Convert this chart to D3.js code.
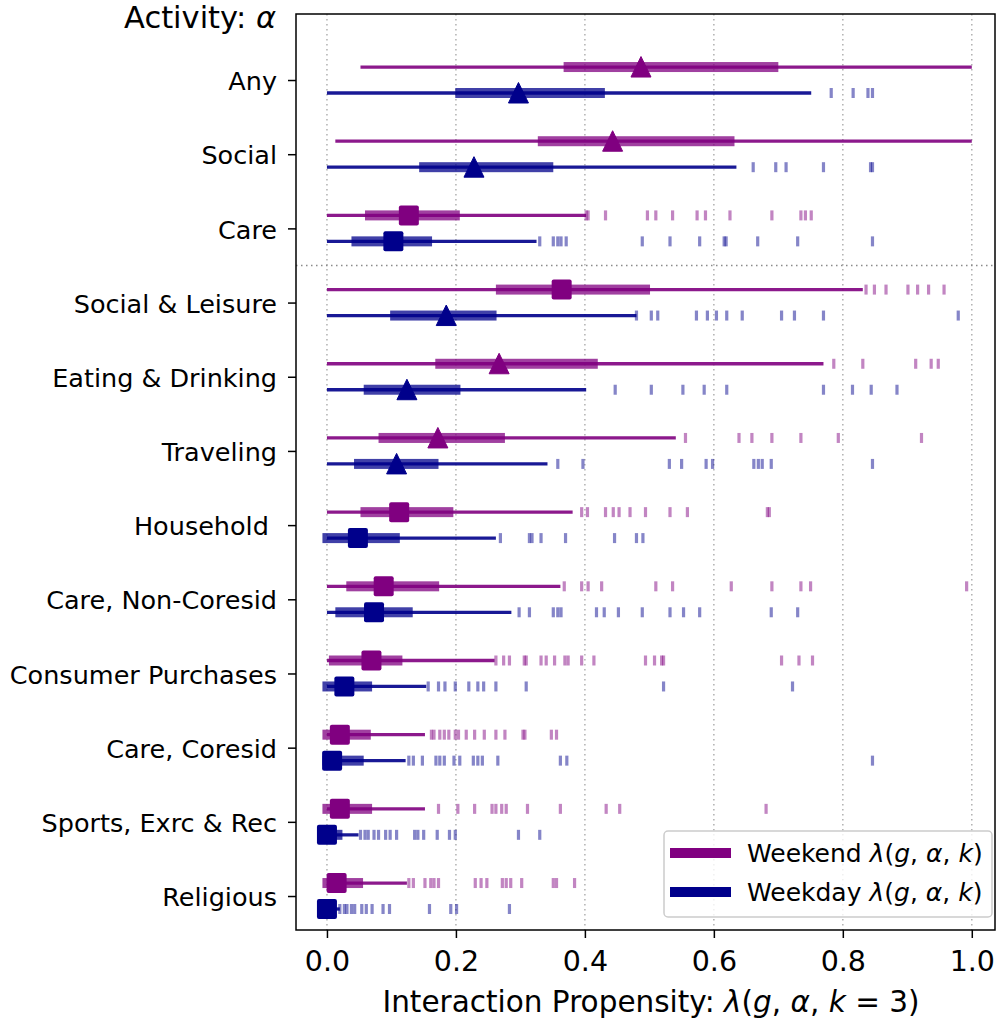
<!DOCTYPE html>
<html><head><meta charset="utf-8">
<script src="https://cdn.jsdelivr.net/npm/d3@7"></script>
<style>
body{margin:0;background:#fff}
svg{display:block}
text{font-family:"DejaVu Sans",sans-serif;white-space:pre;fill:#000}
</style>
</head><body>
<svg id="c" width="997" height="1024"></svg>
<script>
// ---------------- data ----------------
const categories = ["Any","Social","Care","Social & Leisure","Eating & Drinking","Traveling","Household ","Care, Non-Coresid","Consumer Purchases","Care, Coresid","Sports, Exrc & Rec","Religious"];

const weekendMin = [0.052,0.013,0,0,0,0,0,0,0,0,0,0];
const weekendQ1  = [0.367,0.327,0.059,0.262,0.168,0.080,0.052,0.030,0.003,-0.007,-0.007,-0.007];
const weekendMed = [0.487,0.443,0.127,0.364,0.267,0.172,0.112,0.088,0.069,0.020,0.020,0.015];
const weekendQ3  = [0.700,0.632,0.206,0.501,0.420,0.276,0.196,0.174,0.117,0.068,0.070,0.056];
const weekendMax = [1.0,1.0,0.402,0.831,0.770,0.541,0.381,0.362,0.260,0.152,0.152,0.124];
const weekendMarker = ["tri","tri","sq","sq","tri","tri","sq","sq","sq","sq","sq","sq"];
const weekendOutliers = [
  [],
  [],
  [0.402,0.405,0.432,0.497,0.510,0.536,0.574,0.587,0.625,0.690,0.735,0.742,0.751],
  [0.836,0.849,0.867,0.901,0.916,0.933,0.957],
  [0.786,0.831,0.913,0.937,0.948],
  [0.556,0.639,0.659,0.690,0.735,0.793,0.922],
  [0.395,0.404,0.432,0.444,0.453,0.470,0.494,0.532,0.559,0.683,0.686],
  [0.368,0.395,0.405,0.426,0.510,0.536,0.627,0.690,0.735,0.750,0.992],
  [0.262,0.274,0.283,0.306,0.309,0.332,0.340,0.353,0.369,0.374,0.395,0.414,0.494,0.508,0.519,0.522,0.705,0.732,0.753],
  [0.162,0.166,0.175,0.182,0.189,0.199,0.204,0.216,0.229,0.244,0.262,0.276,0.304,0.307,0.348,0.356],
  [0.173,0.203,0.229,0.256,0.262,0.271,0.278,0.311,0.362,0.433,0.454,0.681],
  [0.127,0.134,0.152,0.161,0.166,0.173,0.230,0.239,0.248,0.272,0.278,0.285,0.302,0.351,0.356,0.384]
];

const weekdayMin = [0,0,0,0,0,0,0,0,0,0,0,0];
const weekdayQ1  = [0.199,0.143,0.038,0.098,0.057,0.042,-0.007,0.013,-0.007,-0.007,-0.014,-0.014];
const weekdayMed = [0.297,0.228,0.103,0.185,0.124,0.108,0.048,0.073,0.027,0.008,0.000,0.000];
const weekdayQ3  = [0.431,0.351,0.163,0.263,0.207,0.173,0.113,0.133,0.070,0.057,0.024,0.014];
const weekdayMax = [0.751,0.635,0.325,0.480,0.402,0.342,0.262,0.286,0.154,0.122,0.049,0.020];
const weekdayMarker = ["tri","tri","sq","tri","tri","tri","sq","sq","sq","sq","sq","sq"];
const weekdayOutliers = [
  [0.782,0.816,0.839,0.846],
  [0.661,0.696,0.712,0.770,0.843,0.846],
  [0.330,0.351,0.358,0.363,0.371,0.489,0.532,0.578,0.616,0.619,0.668,0.730,0.846],
  [0.480,0.503,0.513,0.573,0.590,0.604,0.620,0.644,0.705,0.725,0.770,0.979],
  [0.447,0.503,0.552,0.585,0.620,0.770,0.815,0.844,0.884],
  [0.358,0.397,0.531,0.550,0.588,0.598,0.662,0.669,0.675,0.689,0.846],
  [0.269,0.314,0.318,0.332,0.370,0.446,0.480,0.490],
  [0.298,0.314,0.351,0.358,0.363,0.418,0.430,0.452,0.489,0.532,0.553,0.578,0.689,0.730],
  [0.157,0.173,0.183,0.199,0.220,0.234,0.243,0.262,0.309,0.522,0.722],
  [0.127,0.134,0.148,0.169,0.175,0.182,0.197,0.206,0.227,0.234,0.241,0.265,0.362,0.372,0.846],
  [0.052,0.059,0.064,0.073,0.080,0.091,0.098,0.108,0.136,0.141,0.150,0.171,0.190,0.199,0.297,0.330],
  [0.020,0.027,0.031,0.038,0.043,0.054,0.061,0.070,0.087,0.097,0.159,0.192,0.201,0.283]
];

const xTicks = [0,0.2,0.4,0.6,0.8,1.0];
const seriesNames = ["Weekend","Weekday"];
const seriesColors = ["#800080","#00008b"];

// ---------------- layout ----------------
const L = 296, R = 995, T = 14, B = 930;
const svg = d3.select("#c");
const x = d3.scaleLinear().domain([-0.048, 1.036]).range([L, R]);
const y = d3.scaleLinear().domain([-0.89, 11.458]).range([T, B]);
const off = 0.175;

// grid
const grid = svg.append("g");
grid.selectAll("line.v").data(xTicks).join("line")
  .attr("x1", d => x(d)).attr("x2", d => x(d)).attr("y1", T).attr("y2", B)
  .attr("stroke", "#b0b0b0").attr("stroke-width", 1.5).attr("stroke-dasharray", "1.5,3.5");
grid.append("line").attr("x1", L).attr("x2", R).attr("y1", y(2.5)).attr("y2", y(2.5))
  .attr("stroke", "#8a8a8a").attr("stroke-width", 1.5).attr("stroke-dasharray", "1.5,3.5");

// series
const series = [
  {min: weekendMin, q1: weekendQ1, med: weekendMed, q3: weekendQ3, max: weekendMax, mk: weekendMarker, out: weekendOutliers, dy: -off, color: seriesColors[0]},
  {min: weekdayMin, q1: weekdayQ1, med: weekdayMed, q3: weekdayQ3, max: weekdayMax, mk: weekdayMarker, out: weekdayOutliers, dy: off, color: seriesColors[1]}
];
const plot = svg.append("g");
const MS = 20;
categories.forEach((c, i) => {
  series.forEach(s => {
    const yy = y(i + s.dy);
    const g = plot.append("g");
    g.append("line").attr("x1", x(s.min[i])).attr("x2", x(s.max[i])).attr("y1", yy).attr("y2", yy)
      .attr("stroke", s.color).attr("stroke-width", 3.3).attr("stroke-opacity", 0.9);
    g.append("rect").attr("x", x(s.q1[i])).attr("width", x(s.q3[i]) - x(s.q1[i]))
      .attr("y", yy - 5).attr("height", 10).attr("fill", s.color).attr("fill-opacity", 0.75);
    g.selectAll("rect.o").data(s.out[i]).join("rect").attr("class", "o")
      .attr("x", d => x(d) - 1.6).attr("width", 3.2).attr("y", yy - 5).attr("height", 10)
      .attr("fill", s.color).attr("fill-opacity", 0.48);
    const mx = x(s.med[i]);
    if (s.mk[i] === "tri") {
      g.append("path").attr("d", `M${mx},${yy - MS/2 - 0.5}L${mx + MS/2},${yy + MS/2}L${mx - MS/2},${yy + MS/2}Z`)
        .attr("fill", s.color).attr("stroke", s.color).attr("stroke-width", 1).attr("stroke-linejoin", "round");
    } else {
      g.append("rect").attr("x", mx - MS/2).attr("y", yy - MS/2).attr("width", MS).attr("height", MS)
        .attr("rx", 2).attr("fill", s.color);
    }
  });
});

// axes
const xAxis = svg.append("g").attr("transform", `translate(0,${B})`)
  .call(d3.axisBottom(x).tickValues(xTicks).tickFormat(d3.format(".1f")).tickSize(8).tickPadding(13));
xAxis.select(".domain").remove();
xAxis.selectAll(".tick line").attr("stroke", "#000").attr("stroke-width", 1.5);
xAxis.selectAll(".tick text").attr("font-size", 28.5).attr("font-family", "DejaVu Sans");

const yAxis = svg.append("g").attr("transform", `translate(${L},0)`)
  .call(d3.axisLeft(y).tickValues(d3.range(categories.length)).tickFormat(i => categories[i]).tickSize(8).tickPadding(11));
yAxis.select(".domain").remove();
yAxis.selectAll(".tick line").attr("stroke", "#000").attr("stroke-width", 1.5);
yAxis.selectAll(".tick text").attr("font-size", 25.5).attr("font-family", "DejaVu Sans").attr("dy", "0.38em");

// spines
svg.append("rect").attr("x", L).attr("y", T).attr("width", R - L).attr("height", B - T)
  .attr("fill", "none").attr("stroke", "#000").attr("stroke-width", 1.5);

// title
const title = svg.append("text").attr("x", 276).attr("y", 28).attr("text-anchor", "end").attr("font-size", 30.5);
title.append("tspan").text("Activity: ");
title.append("tspan").attr("font-style", "italic").text("α");

// x label
function mathParts(sel, parts) {
  parts.forEach(p => sel.append("tspan").attr("font-style", p[1] ? "italic" : "normal").text(p[0]));
}
const xl = svg.append("text").attr("x", 651).attr("y", 1012).attr("text-anchor", "middle").attr("font-size", 29.5);
mathParts(xl, [["Interaction Propensity: ",0],["λ",1],["(",0],["g",1],[", ",0],["α",1],[", ",0],["k",1],[" = 3)",0]]);

// legend
const lg = svg.append("g");
lg.append("rect").attr("x", 664).attr("y", 831).attr("width", 328).attr("height", 86).attr("rx", 4)
  .attr("fill", "#fff").attr("fill-opacity", 0.8).attr("stroke", "#cccccc").attr("stroke-width", 1.5);
seriesNames.forEach((n, k) => {
  const ly = 853 + k * 39;
  lg.append("line").attr("x1", 670).attr("x2", 731).attr("y1", ly).attr("y2", ly)
    .attr("stroke", seriesColors[k]).attr("stroke-width", 10);
  const t = lg.append("text").attr("x", 747).attr("y", ly + 8.5).attr("font-size", 25);
  mathParts(t, [[n + " ",0],["λ",1],["(",0],["g",1],[", ",0],["α",1],[", ",0],["k",1],[")",0]]);
});
</script>
</body></html>
